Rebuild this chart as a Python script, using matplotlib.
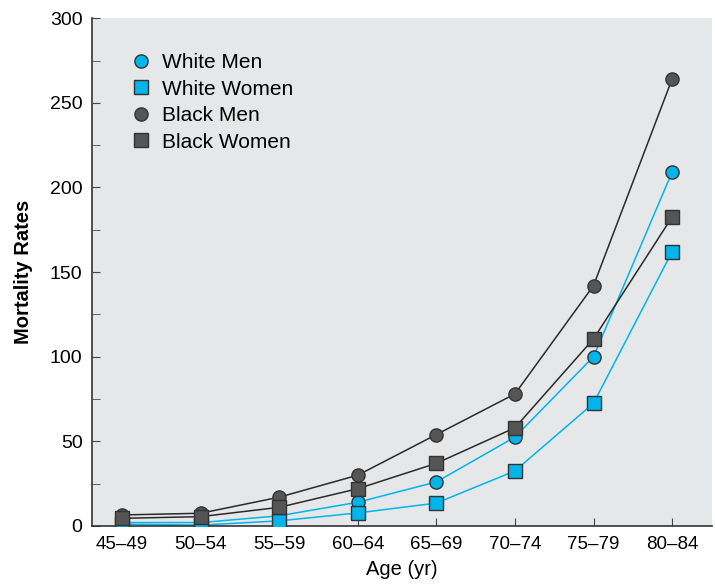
import matplotlib
matplotlib.use("Agg")
import matplotlib.pyplot as plt
from matplotlib.ticker import MultipleLocator

plt.rcParams['font.family'] = ['Liberation Sans', 'DejaVu Sans']

ages = ["45–49", "50–54", "55–59", "60–64", "65–69", "70–74", "75–79", "80–84"]
white_men = [2, 2, 6, 14, 26, 52.5, 100, 209]
white_women = [1, 0.5, 3, 7.7, 13.5, 32.5, 72.5, 162]
black_men = [6.5, 7.5, 17, 30, 54, 78, 142, 264]
black_women = [4.5, 5.5, 11, 22, 37, 58, 110.5, 182.5]

cyan = "#00B5EB"
dark = "#555555"
line_dark = "#2a2a2a"

fig = plt.figure(figsize=(7.15, 5.87), dpi=100)
ax = fig.add_axes([0.129, 0.104, 0.867, 0.865])
ax.set_facecolor("#E6E7E8")

x = list(range(len(ages)))
series = [
    ("White Men", white_men, "o", cyan, cyan),
    ("White Women", white_women, "s", cyan, cyan),
    ("Black Men", black_men, "o", dark, line_dark),
    ("Black Women", black_women, "s", dark, line_dark),
]
for name, vals, mk, fc, lc in series:
    ax.plot(x, vals, color=lc, lw=1.1, zorder=2)
for name, vals, mk, fc, lc in series:
    ax.plot(x, vals, linestyle="none", marker=mk, markersize=9.5,
            markerfacecolor=fc, markeredgecolor="#333333", markeredgewidth=1.0,
            label=name, zorder=3)

ax.set_xlim(-0.38, 7.51)
ax.set_ylim(0, 300)
ax.set_xticks(x)
ax.set_xticklabels(ages, fontsize=13.5)
ax.yaxis.set_major_locator(MultipleLocator(50))
ax.yaxis.set_minor_locator(MultipleLocator(25))
ax.tick_params(axis="y", which="major", direction="in", length=6, labelsize=14, color="#444444", pad=7)
ax.tick_params(axis="y", which="minor", direction="in", length=6, color="#444444")
ax.tick_params(axis="x", direction="in", length=6, labelsize=13.5, color="#444444", pad=7)

for s in ["top", "right"]:
    ax.spines[s].set_visible(False)
for s in ["left", "bottom"]:
    ax.spines[s].set_color("#333333")
    ax.spines[s].set_linewidth(1.2)

ax.set_xlabel("Age (yr)", fontsize=14.5, labelpad=5)
ax.set_ylabel("Mortality Rates", fontsize=14.5, fontweight="bold", labelpad=12)

leg = ax.legend(loc="upper left", bbox_to_anchor=(0.04, 0.96), frameon=False,
                fontsize=15, handlelength=0.9, handletextpad=0.55, labelspacing=0.36,
                borderpad=0.2)

fig.savefig("out.png", dpi=100)
